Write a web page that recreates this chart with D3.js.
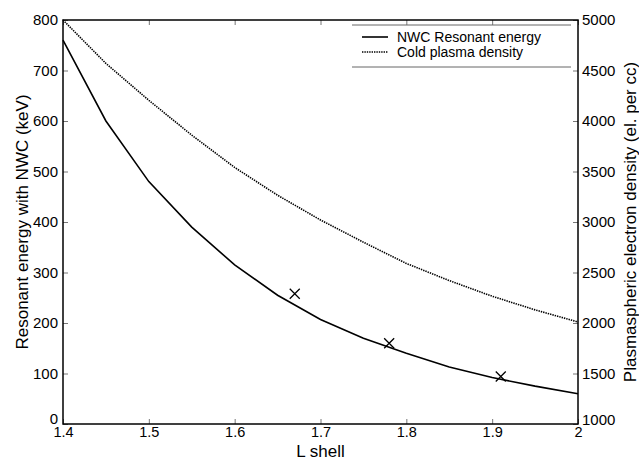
<!DOCTYPE html>
<html>
<head>
<meta charset="utf-8">
<script src="https://cdn.jsdelivr.net/npm/d3@7"></script>
<style>
  body { margin: 0; background: #fff; }
  text { font-family: "Liberation Sans", Arial, sans-serif; fill: #000; }
</style>
</head>
<body>
<div id="viz"></div>
<script>
// data
const lShell = [1.4, 1.45, 1.5, 1.55, 1.6, 1.65, 1.7, 1.75, 1.8, 1.85, 1.9, 1.95, 2.0]
const resonantEnergy = [760, 600, 480, 390, 315, 255, 207, 170, 140, 113, 92, 75, 60]
const plasmaDensity = [5000, 4570, 4205, 3860, 3540, 3265, 3020, 2800, 2590, 2420, 2265, 2130, 2010]
const measuredL = [1.67, 1.78, 1.91]
const measuredEnergy = [258, 160, 94]
const xTicks = [1.4, 1.5, 1.6, 1.7, 1.8, 1.9, 2]
const leftTicks = [0, 100, 200, 300, 400, 500, 600, 700, 800]
const rightTicks = [1000, 1500, 2000, 2500, 3000, 3500, 4000, 4500, 5000]
const legendLabels = ["NWC Resonant energy", "Cold plasma density"]

const width = 639, height = 462
const margin = {top: 20, right: 61, bottom: 38, left: 63}
const innerW = width - margin.left - margin.right,
      innerH = height - margin.top - margin.bottom

const svg = d3.select("#viz").append("svg")
    .attr("width", width)
    .attr("height", height)

const g = svg.append("g")
    .attr("transform", `translate(${margin.left},${margin.top})`)

// scales
const x = d3.scaleLinear().domain([1.4, 2]).range([0, innerW])
const yLeft = d3.scaleLinear().domain([0, 800]).range([innerH, 0])
const yRight = d3.scaleLinear().domain([1000, 5000]).range([innerH, 0])

// axes, ticks pointing inward
const fmtX = d => d === 2 ? "2" : d3.format(".1f")(d)
const xAxisG = g.append("g")
    .attr("class", "axis")
    .attr("transform", `translate(0,${innerH})`)
    .call(d3.axisBottom(x).tickValues(xTicks).tickSizeInner(-5).tickSizeOuter(0).tickPadding(3).tickFormat(fmtX))
g.append("g")
    .attr("class", "axis")
    .call(d3.axisTop(x).tickValues(xTicks).tickSizeInner(-5).tickSizeOuter(0).tickFormat(""))
const leftAxisG = g.append("g")
    .attr("class", "axis")
    .call(d3.axisLeft(yLeft).tickValues(leftTicks).tickSizeInner(-5).tickSizeOuter(0).tickPadding(5))
const rightAxisG = g.append("g")
    .attr("class", "axis")
    .attr("transform", `translate(${innerW},0)`)
    .call(d3.axisRight(yRight).tickValues(rightTicks).tickSizeInner(-5).tickSizeOuter(0).tickPadding(4).tickFormat(d3.format("d")))

g.selectAll(".axis path").remove()
g.selectAll(".axis line").attr("stroke", "#777").attr("stroke-width", 1)
g.selectAll(".axis text").style("font-size", "15px")
xAxisG.selectAll("text").style("font-size", "14.5px")

// shift the bottom corner labels up like the original
leftAxisG.selectAll(".tick text")
    .attr("dy", d => d === 0 ? "-0.05em" : "0.32em")
rightAxisG.selectAll(".tick text")
    .attr("dy", d => d === 1000 ? "0.05em" : "0.32em")

// frame
g.append("rect")
    .attr("width", innerW)
    .attr("height", innerH)
    .attr("fill", "none")
    .attr("stroke", "#000")
    .attr("stroke-width", 1.5)

// curves
const energyLine = d3.line()
    .x((d, i) => x(lShell[i]))
    .y(d => yLeft(d))
const densityLine = d3.line()
    .x((d, i) => x(lShell[i]))
    .y(d => yRight(d))

g.append("path")
    .datum(resonantEnergy)
    .attr("d", energyLine)
    .attr("fill", "none")
    .attr("stroke", "#000")
    .attr("stroke-width", 1.6)

g.append("path")
    .datum(plasmaDensity)
    .attr("d", densityLine)
    .attr("fill", "none")
    .attr("stroke", "#000")
    .attr("stroke-width", 1.6)
    .attr("stroke-dasharray", "1.4,1")

// measured points as crosses
const s = 5
g.selectAll(".cross")
  .data(measuredL.map((d, i) => [d, measuredEnergy[i]]))
  .enter().append("path")
    .attr("class", "cross")
    .attr("d", d => {
      const cx = x(d[0]), cy = yLeft(d[1])
      return `M${cx - s},${cy - s}L${cx + s},${cy + s}M${cx - s},${cy + s}L${cx + s},${cy - s}`
    })
    .attr("stroke", "#000")
    .attr("stroke-width", 1.3)

// legend
const legend = svg.append("g").attr("transform", "translate(352,25)")
legend.append("line").attr("x1", 0).attr("x2", 219).attr("y1", 0).attr("y2", 0)
    .attr("stroke", "#666")
legend.append("line").attr("x1", 0).attr("x2", 219).attr("y1", 42).attr("y2", 42)
    .attr("stroke", "#666")
legendLabels.forEach((label, i) => {
  const yy = 12 + i * 15
  legend.append("line")
      .attr("x1", 10).attr("x2", 36).attr("y1", yy).attr("y2", yy)
      .attr("stroke", "#000")
      .attr("stroke-width", i === 0 ? 1.6 : 1.4)
      .attr("stroke-dasharray", i === 0 ? null : "1.4,1")
  legend.append("text")
      .attr("x", 45).attr("y", yy)
      .attr("dy", "0.35em")
      .style("font-size", "14px")
      .text(label)
})

// axis titles
svg.append("text")
    .attr("x", margin.left + innerW / 2)
    .attr("y", 457)
    .attr("text-anchor", "middle")
    .style("font-size", "17px")
    .text("L shell")

svg.append("text")
    .attr("transform", `translate(22,${margin.top + innerH / 2}) rotate(-90)`)
    .attr("text-anchor", "middle")
    .attr("dy", "0.35em")
    .style("font-size", "17px")
    .text("Resonant energy with NWC (keV)")

svg.append("text")
    .attr("transform", `translate(630,${margin.top + innerH / 2}) rotate(-90)`)
    .attr("text-anchor", "middle")
    .attr("dy", "0.35em")
    .style("font-size", "17px")
    .text("Plasmaspheric electron density (el. per cc)")
</script>
</body>
</html>
